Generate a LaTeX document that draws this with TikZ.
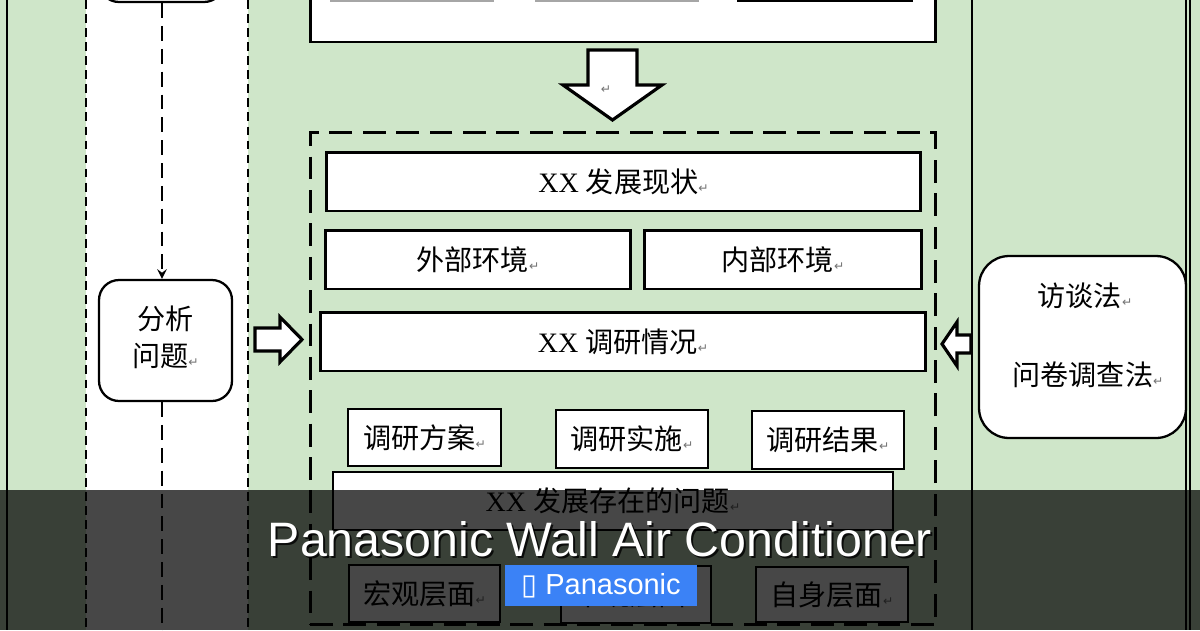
\documentclass[tikz,border=0pt]{standalone}
\usepackage{fontspec}
\setmainfont{Liberation Serif}
\newfontfamily\cjk{Noto Sans CJK SC}
\newfontfamily\symfont{DejaVu Sans}
\newfontfamily\bannerfont{Liberation Sans}
\usetikzlibrary{arrows,calc,positioning}
\definecolor{paleGreen}{RGB}{207,230,201}
\definecolor{btnBlue}{RGB}{59,130,246}
\newcommand{\retmark}{{\symfont\fontsize{7}{7}\selectfont\textcolor{black!55}{↵}}}
\tikzstyle{frame} = [rectangle, draw=black, line width=1.7pt, fill=white, inner sep=0pt, text centered, font=\fontsize{16}{19}\selectfont]
\tikzstyle{subframe} = [frame, line width=1.1pt]
\tikzstyle{roundFrame} = [frame, line width=1.3pt, rounded corners=0.4cm]
\tikzstyle{groupFrame} = [rectangle, draw=black, line width=1.7pt, dash pattern=on 13pt off 6pt, inner sep=0pt]
\tikzstyle{label} = [inner sep=0pt, font=\fontsize{16}{19}\selectfont]
\tikzstyle{blockArrow} = [draw=black, line width=1.8pt, fill=white, line join=miter]
\tikzstyle{laneLine} = [line width=0.7pt, dash pattern=on 5pt off 3pt]
\tikzstyle{flowLine} = [line width=1.4pt, dash pattern=on 8.5pt off 4.5pt]
\tikzstyle{arrow} = [->,>=stealth]
\tikzstyle{banner} = [font=\bannerfont\fontsize{27.5}{30}\selectfont, anchor=base]

\begin{document}
\begin{tikzpicture}[x=0.02cm, y=-0.02cm]
\useasboundingbox (0,0) rectangle (1200,630);
\clip (0,0) rectangle (1200,630);
% Background
\fill[paleGreen] (0,0) rectangle (1200,630);
\fill[white] (86,0) rectangle (248,630);
\draw[line width=0.9pt] (7,0) -- (7,630);
\draw[line width=1.3pt] (972,0) -- (972,630);
\draw[line width=1.2pt] (1186,0) -- (1186,630);
\draw[line width=0.6pt] (1190,0) -- (1190,630);
\draw[laneLine] (86,0) -- (86,630);
\draw[laneLine] (248,0) -- (248,630);
% Draw shapes
\node (prev) [roundFrame, minimum width=2.5cm, minimum height=1.24cm] at (161.5,-29) {};
\node (plan) [frame, minimum width=12.52cm, minimum height=1.64cm] at (623,1) {};
\node (planA) [subframe, draw=black!35, minimum width=3.24cm, minimum height=1cm] at (412,-24) {};
\node (planB) [subframe, draw=black!35, minimum width=3.24cm, minimum height=1cm] at (617,-24) {};
\node (planC) [frame, minimum width=3.48cm, minimum height=1cm] at (825,-24) {};
\node (group) [groupFrame, minimum width=12.52cm, minimum height=9.86cm] at (623,378.5) {};
\node (status) [frame, minimum width=11.9cm, minimum height=1.18cm] at (623.5,181.5)
{XX {\cjk 发展现状}\retmark};
\node (extEnv) [frame, minimum width=6.12cm, minimum height=1.18cm] at (478,259.5)
{{\cjk 外部环境}\retmark};
\node (intEnv) [frame, minimum width=5.56cm, minimum height=1.18cm] at (783,259.5)
{{\cjk 内部环境}\retmark};
\node (survey) [frame, minimum width=12.12cm, minimum height=1.18cm] at (623,341.5)
{XX {\cjk 调研情况}\retmark};
\node (scheme) [subframe, minimum width=3.06cm, minimum height=1.14cm] at (424.5,437.5)
{{\cjk 调研方案}\retmark};
\node (execute) [subframe, minimum width=3.04cm, minimum height=1.16cm] at (632,439)
{{\cjk 调研实施}\retmark};
\node (result) [subframe, minimum width=3.04cm, minimum height=1.16cm] at (828,440)
{{\cjk 调研结果}\retmark};
\node (problem) [subframe, minimum width=11.2cm, minimum height=1.16cm] at (613,501)
{XX {\cjk 发展存在的问题}\retmark};
\node (macro) [subframe, minimum width=3.02cm, minimum height=1.14cm] at (424.5,593.5)
{{\cjk 宏观层面}\retmark};
\node (meso) [subframe, minimum width=3.0cm, minimum height=1.14cm] at (636,594.5)
{{\cjk 中观层面}\retmark};
\node (self) [subframe, minimum width=3.04cm, minimum height=1.1cm] at (832,594.5)
{{\cjk 自身层面}\retmark};
\node (analyse) [roundFrame, minimum width=2.66cm, minimum height=2.42cm] at (165.5,340.5) {};
\node (analyseText) [label, align=center, font=\fontsize{16}{21}\selectfont] at (165.5,337)
{{\cjk 分析}\\{\cjk 问题}\retmark};
\node (method) [roundFrame, rounded corners=0.6cm, minimum width=4.14cm, minimum height=3.64cm] at (1082.5,347) {};
\node (interview) [label] at (1085,296) {{\cjk 访谈法}\retmark};
\node (questionnaire) [label] at (1088,375) {{\cjk 问卷调查法}\retmark};
% Block arrows
\draw[blockArrow] (588,50) -- (637,50) -- (637,85) -- (662,85) -- (612.5,120) -- (563,85) -- (588,85) -- cycle;
\node (downMark) at (606,90) {\retmark};
\draw[blockArrow] (255,328) -- (280,328) -- (280,317) -- (302,339.5) -- (280,362) -- (280,351) -- (255,351) -- cycle;
\draw[blockArrow] (971,335) -- (957,335) -- (957,322) -- (942,344) -- (957,366) -- (957,353) -- (971,353) -- cycle;
% Draw arrows
\coordinate (laneEnd) at (162,640);
\draw[flowLine, arrow] (prev.south -| laneEnd) -- (analyse.north -| laneEnd);
\draw[flowLine] (analyse.south -| laneEnd) -- (laneEnd);
% Banner
\fill[black, opacity=0.72] (0,490) rectangle (1200,630);
\node (titleShadow) [banner, text=black, opacity=0.8] at (602,558) {Panasonic Wall Air Conditioner};
\node (title) [banner, text=white] at (600,556) {Panasonic Wall Air Conditioner};
\node (brand) [fill=btnBlue, minimum width=3.84cm, minimum height=0.82cm, inner sep=0pt, text=white,
font=\bannerfont\fontsize{16.5}{18}\selectfont] at (601,585.5) {{\symfont ▯}\ Panasonic};
\end{tikzpicture}
\end{document}
